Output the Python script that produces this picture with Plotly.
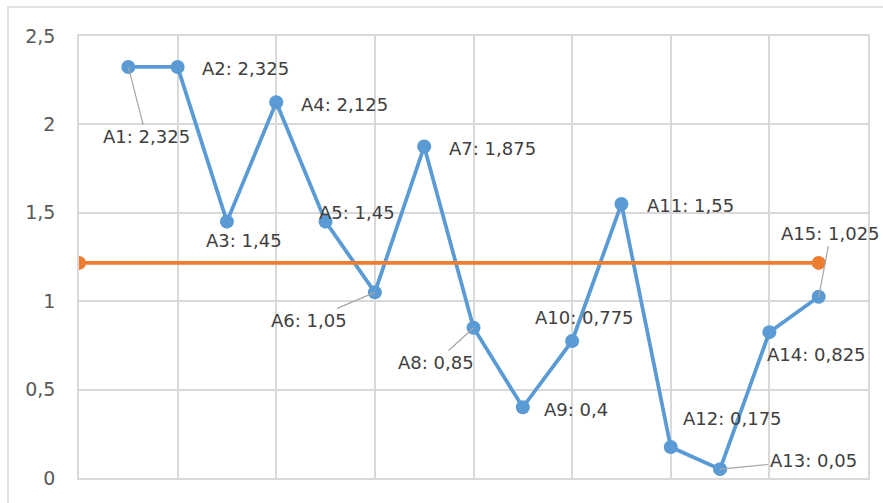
import plotly.graph_objects as go

# ---- data ----
labels = ["A1", "A2", "A3", "A4", "A5", "A6", "A7", "A8", "A9", "A10",
          "A11", "A12", "A13", "A14", "A15"]
x_pos = [1, 2, 3, 4, 5, 6, 7, 8, 9, 10, 11, 12, 13, 14, 15]
values = [2.325, 2.325, 1.45, 2.125, 1.45, 1.05, 1.875, 0.85, 0.4, 0.775,
          1.55, 0.175, 0.05, 0.825, 1.025]
mean_x = [0, 15]
mean_y = [1.2167, 1.2167]
value_text = ["2,325", "2,325", "1,45", "2,125", "1,45", "1,05", "1,875", "0,85",
              "0,4", "0,775", "1,55", "0,175", "0,05", "0,825", "1,025"]

# label placement (pixel offsets from the point): (dx, dy_down, leader)
label_pos = [
    (18, 70, True), (68, 2, False), (17, 19, False), (68, 2, False),
    (31, -9, False), (-66, 28, True), (68, 2, False), (-38, 35, True),
    (53, 2, False), (12, -23, False), (69, 2, False), (62, -29, False),
    (93, -9, True), (47, 22, False), (12, -63, True),
]

BLUE = "#5B9BD5"
ORANGE = "#ED7D31"
GRID = "#D9D9D9"
FONT = "DejaVu Sans"

fig = go.Figure()
fig.add_trace(go.Scatter(
    x=x_pos, y=values, mode="lines+markers",
    line=dict(color=BLUE, width=3.75),
    marker=dict(color=BLUE, size=14),
    hoverinfo="skip", showlegend=False))
fig.add_trace(go.Scatter(
    x=mean_x, y=mean_y, mode="lines+markers",
    line=dict(color=ORANGE, width=3.75),
    marker=dict(color=ORANGE, size=14),
    hoverinfo="skip", showlegend=False))

annotations = []
for lab, xv, yv, txt, (dx, dy, leader) in zip(labels, x_pos, values, value_text, label_pos):
    a = dict(x=xv, y=yv, xref="x", yref="y", text=f"{lab}: {txt}",
             font=dict(family=FONT, size=18, color="#404040"))
    if leader:
        a.update(showarrow=True, arrowhead=0, arrowwidth=1.2, arrowcolor="#A6A6A6",
                 ax=dx, ay=dy, axref="pixel", ayref="pixel", standoff=0)
    else:
        a.update(showarrow=False, xshift=dx, yshift=-dy)
    annotations.append(a)

fig.update_layout(
    width=883, height=503,
    margin=dict(l=79, r=15, t=36, b=25),
    paper_bgcolor="white", plot_bgcolor="white",
    separators=", ",
    font=dict(family=FONT, size=18, color="#595959"),
    annotations=annotations,
    shapes=[dict(type="rect", xref="paper", yref="paper",
                 x0=-0.09, x1=2, y0=-1, y1=1.0656,
                 line=dict(color=GRID, width=1.5), fillcolor="rgba(0,0,0,0)",
                 layer="below")],
)
fig.update_xaxes(range=[0, 16], dtick=2, tick0=0, showgrid=True, gridcolor=GRID,
                 gridwidth=1.5, showticklabels=False, zeroline=False,
                 showline=True, mirror=True, linecolor=GRID, linewidth=1.5, ticks="")
fig.update_yaxes(range=[0, 2.5], dtick=0.5, tick0=0, showgrid=True, gridcolor=GRID,
                 gridwidth=1.5, zeroline=False, showline=True, mirror=True,
                 linecolor=GRID, linewidth=1.5, ticks="", ticklabelstandoff=18,
                 tickfont=dict(family=FONT, size=19, color="#595959"))

fig.write_html("out.html")
